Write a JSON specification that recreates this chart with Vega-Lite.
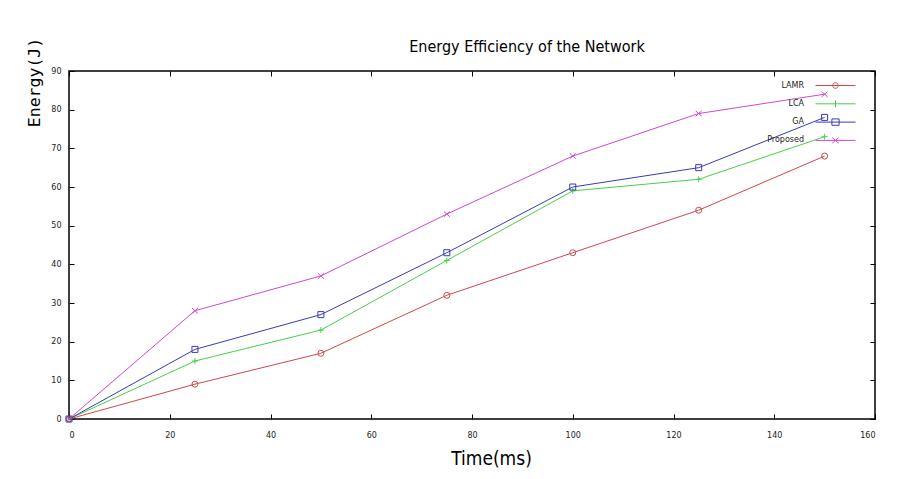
{
  "$schema": "https://vega.github.io/schema/vega-lite/v6.json",
  "width": 806,
  "height": 348,
  "autosize": {"type": "none"},
  "padding": {"left": 69, "top": 71, "right": 35, "bottom": 60},
  "background": "white",
  "title": {
    "text": "Energy Efficiency of the Network",
    "font": "DejaVu Sans Condensed",
    "fontSize": 16,
    "fontWeight": "normal",
    "color": "#000000",
    "anchor": "middle",
    "frame": "group",
    "dx": 55,
    "offset": -31,
    "baseline": "alphabetic"
  },
  "config": {
    "view": {"stroke": "#000000", "strokeWidth": 1.5},
    "axis": {
      "domain": false,
      "grid": false,
      "tickColor": "#000000",
      "tickWidth": 1,
      "tickSize": -5,
      "labelFont": "DejaVu Sans",
      "labelFontSize": 8,
      "labelColor": "#222222",
      "titleFontWeight": "normal",
      "titleColor": "#000000"
    }
  },
  "data": {
    "values": [
      {"t": 0, "e": 0, "s": "LAMR"},
      {"t": 25, "e": 9, "s": "LAMR"},
      {"t": 50, "e": 17, "s": "LAMR"},
      {"t": 75, "e": 32, "s": "LAMR"},
      {"t": 100, "e": 43, "s": "LAMR"},
      {"t": 125, "e": 54, "s": "LAMR"},
      {"t": 150, "e": 68, "s": "LAMR"},
      {"t": 0, "e": 0, "s": "LCA"},
      {"t": 25, "e": 15, "s": "LCA"},
      {"t": 50, "e": 23, "s": "LCA"},
      {"t": 75, "e": 41, "s": "LCA"},
      {"t": 100, "e": 59, "s": "LCA"},
      {"t": 125, "e": 62, "s": "LCA"},
      {"t": 150, "e": 73, "s": "LCA"},
      {"t": 0, "e": 0, "s": "GA"},
      {"t": 25, "e": 18, "s": "GA"},
      {"t": 50, "e": 27, "s": "GA"},
      {"t": 75, "e": 43, "s": "GA"},
      {"t": 100, "e": 60, "s": "GA"},
      {"t": 125, "e": 65, "s": "GA"},
      {"t": 150, "e": 78, "s": "GA"},
      {"t": 0, "e": 0, "s": "Proposed"},
      {"t": 25, "e": 28, "s": "Proposed"},
      {"t": 50, "e": 37, "s": "Proposed"},
      {"t": 75, "e": 53, "s": "Proposed"},
      {"t": 100, "e": 68, "s": "Proposed"},
      {"t": 125, "e": 79, "s": "Proposed"},
      {"t": 150, "e": 84, "s": "Proposed"}
    ]
  },
  "resolve": {"axis": {"x": "independent", "y": "independent"}},
  "layer": [
    {
      "mark": {"type": "line", "strokeWidth": 1},
      "encoding": {
        "x": {
          "field": "t", "type": "quantitative",
          "scale": {"domain": [0, 160], "nice": false, "zero": false},
          "axis": {
            "orient": "bottom",
            "values": [0, 20, 40, 60, 80, 100, 120, 140, 160],
            "labelPadding": 17,
            "labelBaseline": "top",
            "title": "Time(ms)",
            "titleFont": "DejaVu Sans Condensed",
            "titleFontSize": 19,
            "titleX": 422,
            "titleY": 45,
            "titleAlign": "center",
            "titleBaseline": "alphabetic"
          }
        },
        "y": {
          "field": "e", "type": "quantitative",
          "scale": {"domain": [0, 90], "nice": false},
          "axis": {
            "orient": "left",
            "values": [0, 10, 20, 30, 40, 50, 60, 70, 80, 90],
            "labelPadding": 13,
            "title": "Energy(J)",
            "titleFont": "DejaVu Sans Mono",
            "titleFontSize": 16.5,
            "titleAngle": -90,
            "titleX": -35,
            "titleY": 11,
            "titleAlign": "center",
            "titleBaseline": "middle"
          }
        },
        "color": {
          "field": "s", "type": "nominal",
          "scale": {"domain": ["LAMR", "LCA", "GA", "Proposed"], "range": ["#d04848", "#48d048", "#3a3ab4", "#d048d0"]},
          "legend": {
            "orient": "none",
            "legendX": 762,
            "legendY": 10,
            "title": null,
            "padding": 0,
            "direction": "vertical",
            "rowPadding": 7.3,
            "symbolSize": 64,
            "symbolStrokeWidth": 1,
            "symbolFillColor": "transparent",
            "symbolOpacity": 1,
            "labelAlign": "right",
            "labelOffset": -36,
            "labelFont": "DejaVu Sans",
            "labelFontSize": 8,
            "labelColor": "#222222",
            "encode": {
              "symbols": {
                "update": {
                  "shape": {"signal": "datum.value == 'LAMR' ? 'M-5,0H5M0.7,0A0.7,0.7 0 1,1 -0.7,0A0.7,0.7 0 1,1 0.7,0Z' : datum.value == 'LCA' ? 'M-5,0H5M0,-0.85V0.85' : datum.value == 'GA' ? 'M-5,0H5M-0.9,-0.8H0.9V0.8H-0.9Z' : 'M-5,0H5M-0.8,-0.7L0.8,0.7M-0.8,0.7L0.8,-0.7'"},
                  "fill": {"value": "transparent"},
                  "stroke": {"signal": "scale('color', datum.value)"},
                  "strokeWidth": {"value": 1},
                  "opacity": {"value": 1}
                }
              }
            }
          }
        },
        "order": {"field": "t"}
      }
    },
    {
      "mark": {"type": "point", "filled": false, "strokeWidth": 1, "opacity": 1},
      "encoding": {
        "x": {
          "field": "t", "type": "quantitative",
          "axis": {"orient": "top", "labels": false, "title": null, "values": [0, 20, 40, 60, 80, 100, 120, 140, 160]}
        },
        "y": {
          "field": "e", "type": "quantitative",
          "axis": {"orient": "right", "labels": false, "title": null, "values": [0, 10, 20, 30, 40, 50, 60, 70, 80, 90]}
        },
        "color": {"field": "s", "type": "nominal"},
        "shape": {
          "field": "s", "type": "nominal",
          "scale": {
            "domain": ["Proposed", "GA", "LCA", "LAMR"],
            "range": ["M-1,-0.9L1,0.9M-1,0.9L1,-0.9", "square", "M-1,0H1M0,-1V1", "circle"]
          },
          "legend": null
        },
        "size": {"value": 36}
      }
    }
  ]
}
